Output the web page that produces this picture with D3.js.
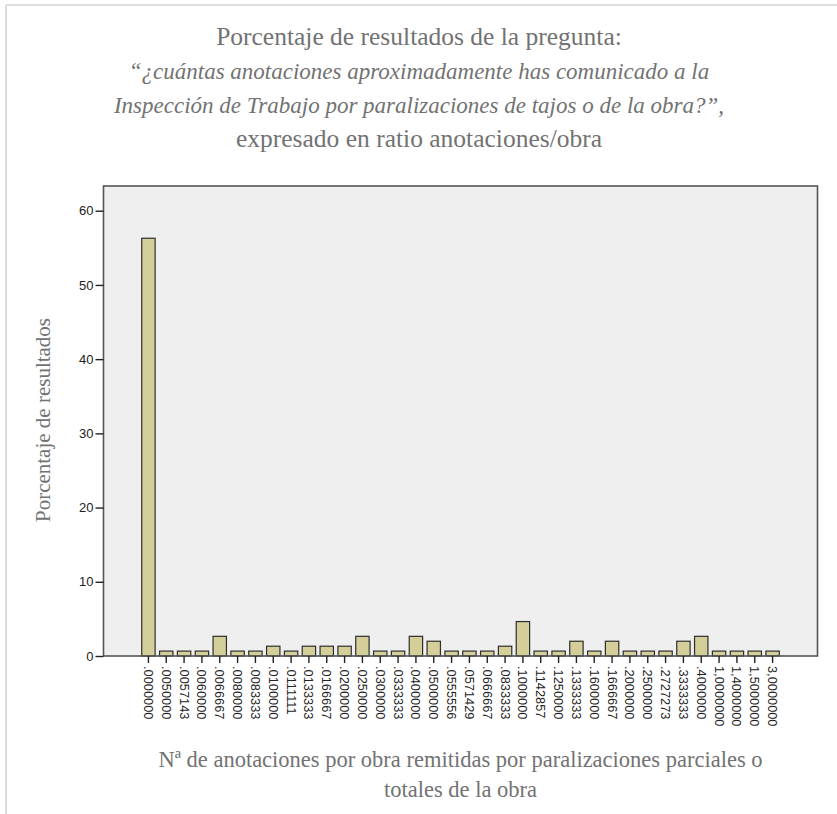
<!DOCTYPE html>
<html>
<head>
<meta charset="utf-8">
<script src="https://cdn.jsdelivr.net/npm/d3@7/dist/d3.min.js"></script>
<style>
  html, body { margin: 0; padding: 0; background: #fff; }
  svg { display: block; }
</style>
</head>
<body>
<svg id="chart" width="837" height="814"></svg>
<script>
// Ratio of annotations per construction site (category labels)
const categories = [
  ".0000000", ".0050000", ".0057143", ".0060000", ".0066667", ".0080000",
  ".0083333", ".0100000", ".0111111", ".0133333", ".0166667", ".0200000",
  ".0250000", ".0300000", ".0333333", ".0400000", ".0500000", ".0555556",
  ".0571429", ".0666667", ".0833333", ".1000000", ".1142857", ".1250000",
  ".1333333", ".1600000", ".1666667", ".2000000", ".2500000", ".2727273",
  ".3333333", ".4000000", "1,0000000", "1,4000000", "1,5000000", "3,0000000"
];

// Percentage of answers for each ratio
const percents = [
  56.29, 0.66, 0.66, 0.66, 2.65, 0.66,
  0.66, 1.32, 0.66, 1.32, 1.32, 1.32,
  2.65, 0.66, 0.66, 2.65, 1.99, 0.66,
  0.66, 0.66, 1.32, 4.64, 0.66, 0.66,
  1.99, 0.66, 1.99, 0.66, 0.66, 0.66,
  1.99, 2.65, 0.66, 0.66, 0.66, 0.66
];

const yTicks = [0, 10, 20, 30, 40, 50, 60];
const yMax = 63.33;

const titleLines = [
  { text: "Porcentaje de resultados de la pregunta:", italic: false },
  { text: "“¿cuántas anotaciones aproximadamente has comunicado a la", italic: true },
  { text: "Inspección de Trabajo por paralizaciones de tajos o de la obra?”,", italic: true },
  { text: "expresado en ratio anotaciones/obra", italic: false }
];
const yTitle = "Porcentaje de resultados";
const xTitleLines = [
  "Nª de anotaciones por obra remitidas por paralizaciones parciales o",
  "totales de la obra"
];

const W = 837, H = 814;
const frame = { left: 103.5, top: 186, right: 817.5, bottom: 656 };
const innerPad = 36;
const serif = "'Liberation Serif', 'DejaVu Serif', serif";
const sans = "'Liberation Sans', Arial, sans-serif";
const textGray = "#727272";

const svg = d3.select("#chart");

// Page border (top and left edges)
svg.append("line").attr("x1", 6).attr("x2", W).attr("y1", 5).attr("y2", 5)
  .attr("stroke", "#dcdcdc").attr("stroke-width", 2);
svg.append("line").attr("x1", 6).attr("x2", 6).attr("y1", 5).attr("y2", H)
  .attr("stroke", "#dcdcdc").attr("stroke-width", 2);

// Title
const title = svg.append("g").attr("font-family", serif).attr("fill", textGray)
  .attr("text-anchor", "middle");
titleLines.forEach((l, i) => {
  title.append("text")
    .attr("x", 419).attr("y", 45 + i * 34)
    .attr("font-size", l.italic ? 23 : 25.5)
    .attr("font-style", l.italic ? "italic" : "normal")
    .text(l.text);
});

// Scales
const x = d3.scaleBand()
  .domain(categories)
  .range([frame.left + innerPad, frame.right - innerPad])
  .paddingInner(0.25)
  .paddingOuter(0.125);

const y = d3.scaleLinear().domain([0, yMax]).range([frame.bottom, frame.top]);

// Plot background
svg.append("rect")
  .attr("x", frame.left).attr("y", frame.top)
  .attr("width", frame.right - frame.left).attr("height", frame.bottom - frame.top)
  .attr("fill", "#efefef");

// Bars
svg.append("g").selectAll("rect")
  .data(categories.map((c, i) => ({ c, v: percents[i] })))
  .join("rect")
  .attr("x", d => x(d.c))
  .attr("y", d => y(d.v))
  .attr("width", x.bandwidth())
  .attr("height", d => y(0) - y(d.v))
  .attr("fill", "#d4cf98")
  .attr("stroke", "#2e2e2e")
  .attr("stroke-width", 1.2);

// Frame
svg.append("rect")
  .attr("x", frame.left).attr("y", frame.top)
  .attr("width", frame.right - frame.left).attr("height", frame.bottom - frame.top)
  .attr("fill", "none").attr("stroke", "#555").attr("stroke-width", 1.6);

// Y axis
const yAxis = svg.append("g")
  .attr("transform", `translate(${frame.left},0)`)
  .call(d3.axisLeft(y).tickValues(yTicks).tickSize(8).tickPadding(2));
yAxis.select(".domain").remove();
yAxis.selectAll(".tick line").attr("stroke", "#222").attr("stroke-width", 1.4);
yAxis.selectAll(".tick text").attr("font-family", sans).attr("font-size", 13)
  .attr("fill", "#222");

// X axis
const xAxis = svg.append("g")
  .attr("transform", `translate(0,${frame.bottom})`)
  .call(d3.axisBottom(x).tickSize(7).tickPadding(3));
xAxis.select(".domain").remove();
xAxis.selectAll(".tick line").attr("stroke", "#222").attr("stroke-width", 1.4);
xAxis.selectAll(".tick text")
  .attr("font-family", sans).attr("font-size", 12.8).attr("fill", "#222")
  .attr("text-anchor", "start")
  .attr("transform", "rotate(90)")
  .attr("x", 10).attr("y", 0).attr("dy", "0.35em");

// Y axis title
svg.append("text")
  .attr("transform", `translate(43,${420}) rotate(-90)`)
  .attr("text-anchor", "middle")
  .attr("dy", "0.35em")
  .attr("font-family", serif).attr("font-size", 21).attr("fill", textGray)
  .text(yTitle);

// X axis title
xTitleLines.forEach((t, i) => {
  svg.append("text")
    .attr("x", (frame.left + frame.right) / 2)
    .attr("y", 767 + i * 30)
    .attr("text-anchor", "middle")
    .attr("font-family", serif).attr("font-size", 22.5).attr("fill", textGray)
    .text(t);
});
</script>
</body>
</html>
